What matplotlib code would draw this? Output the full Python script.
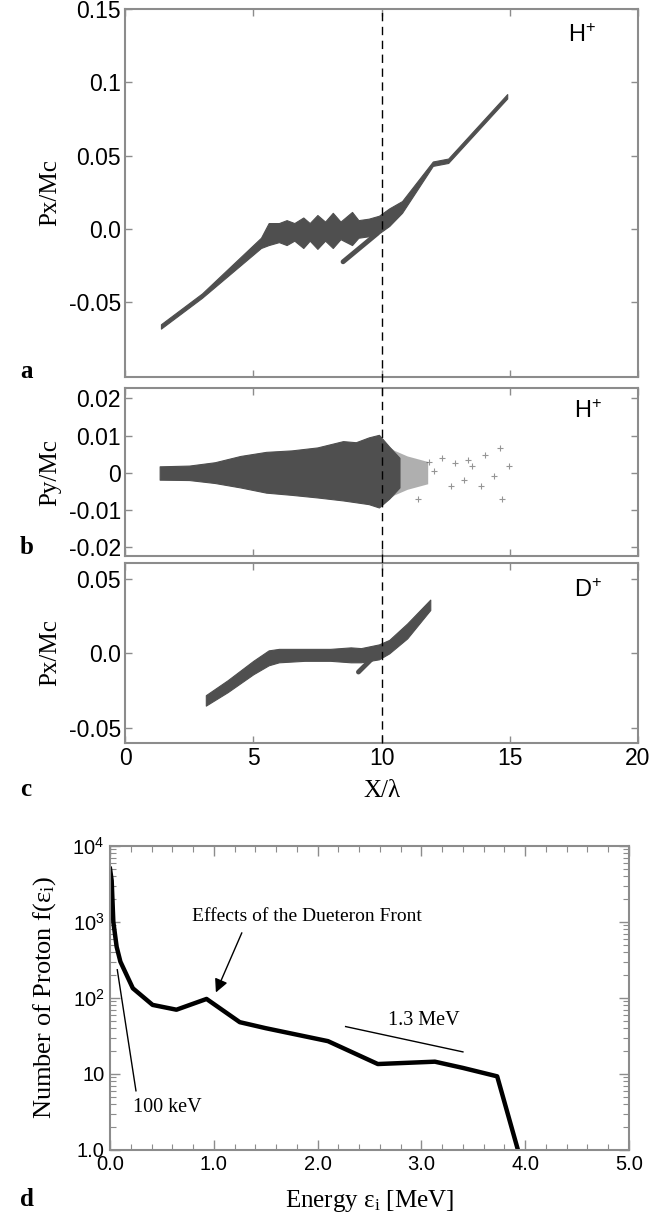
import matplotlib
matplotlib.use("Agg")
import matplotlib.pyplot as plt
from matplotlib.lines import Line2D
from matplotlib.transforms import blended_transform_factory
from matplotlib.ticker import FixedLocator, MultipleLocator, LogLocator, NullFormatter

SANS = 'Liberation Sans'
SERIF = 'Liberation Serif'
CLOUD = '#4f4f4f'
SPINE = '#8c8c8c'

plt.rcParams['font.family'] = SANS
plt.rcParams['mathtext.fontset'] = 'custom'
plt.rcParams['mathtext.rm'] = SERIF
plt.rcParams['mathtext.it'] = SERIF + ':italic'
plt.rcParams['mathtext.sf'] = SANS

# ---- panel a : H+ Px/Mc (cloud envelope)
a_x = [1.4, 3.0, 5.3, 5.6, 6.0, 6.3, 6.6, 6.95, 7.2, 7.5, 7.8, 8.1, 8.4, 8.85,
       9.1, 9.5, 9.9, 10.3, 10.8, 12.0, 12.6, 14.9]
a_lo = [-0.068, -0.047, -0.013, -0.011, -0.009, -0.011, -0.008, -0.013, -0.008,
        -0.0136, -0.008, -0.013, -0.007, -0.011, -0.006, -0.005, -0.003, 0.002,
        0.011, 0.043, 0.045, 0.089]
a_hi = [-0.065, -0.044, -0.006, 0.004, 0.004, 0.006, 0.004, 0.0078, 0.004,
        0.0095, 0.005, 0.011, 0.005, 0.0116, 0.006, 0.007, 0.009, 0.014, 0.019,
        0.046, 0.048, 0.092]
a_hook_x = [8.5, 9.84]
a_hook_y = [-0.0224, -0.003]

# ---- panel b : H+ Py/Mc
b_x = [1.35, 2.5, 3.5, 4.5, 5.5, 6.5, 7.5, 8.5, 9.0, 9.5, 9.9, 10.3, 10.7]
b_hi = [0.0017, 0.0019, 0.0028, 0.0045, 0.0056, 0.0060, 0.0068, 0.0085, 0.0082,
        0.0095, 0.0102, 0.0070, 0.0040]
b_lo = [-0.0019, -0.0020, -0.0028, -0.0040, -0.0054, -0.0060, -0.0067, -0.0075,
        -0.0080, -0.0085, -0.0094, -0.0070, -0.0040]
b_fringe_x = [9.9, 10.5, 11.0, 11.8]
b_fringe_hi = [0.009, 0.006, 0.0045, 0.003]
b_fringe_lo = [-0.009, -0.006, -0.0045, -0.003]
b_sparse_x = [11.86, 12.37, 12.87, 13.53, 14.03, 14.37, 14.62, 14.70, 14.96,
              13.87, 13.20, 12.70, 11.44, 12.03, 13.37]
b_sparse_y = [0.0030, 0.0039, 0.0026, 0.0017, 0.0048, -0.0010, 0.0066, -0.0072,
              0.0017, -0.0037, -0.0019, -0.0037, -0.0072, 0.0004, 0.0035]

# ---- panel c : D+ Px/Mc
c_x = [3.15, 4.0, 5.0, 5.6, 6.0, 7.0, 8.0, 8.8, 9.2, 9.9, 10.3, 11.0, 11.9]
c_lo = [-0.035, -0.026, -0.014, -0.008, -0.006, -0.005, -0.005, -0.006, -0.006,
        -0.004, 0.000, 0.010, 0.029]
c_hi = [-0.028, -0.018, -0.005, 0.002, 0.003, 0.003, 0.003, 0.004, 0.0035,
        0.006, 0.009, 0.020, 0.036]
c_hook_x = [9.1, 9.6]
c_hook_y = [-0.0125, -0.004]

# ---- panel d : proton energy spectrum
energy = [0.0, 0.016, 0.032, 0.064, 0.1, 0.22, 0.41, 0.64, 0.93, 1.25, 1.5,
          2.1, 2.58, 3.13, 3.4, 3.73, 3.93]
counts = [5000, 3500, 1000, 470, 300, 134, 81, 70, 97, 48, 40, 27, 13.5, 14.5,
          12, 9.3, 1.0]
line_13_e = [2.27, 3.40]
line_13_f = [42, 19.5]
line_100_e = [0.07, 0.25]
line_100_f = [235, 6.0]

fig = plt.figure(figsize=(6.7, 12.17), dpi=100)
ax_a = fig.add_axes([0.1866, 0.6902, 0.7657, 0.3024])
ax_b = fig.add_axes([0.1866, 0.5431, 0.7657, 0.1380])
ax_c = fig.add_axes([0.1866, 0.3895, 0.7657, 0.1479])
ax_d = fig.add_axes([0.1642, 0.0551, 0.7746, 0.2498])


def style_top(ax, ylim, yticks, ylabels, show_x):
    ax.set_xlim(0, 20)
    ax.set_ylim(*ylim)
    ax.set_xticks([0, 5, 10, 15, 20])
    ax.set_yticks(yticks)
    ax.set_yticklabels(ylabels)
    ax.tick_params(direction='in', length=5, width=1, color=SPINE, top=True,
                   right=True, labelsize=16.5, pad=3, labelbottom=show_x)
    for s in ax.spines.values():
        s.set_color(SPINE)
        s.set_linewidth(1.5)


# panel a
ax_a.fill_between(a_x, a_lo, a_hi, color=CLOUD, lw=0.8, edgecolor=CLOUD)
ax_a.plot(a_hook_x, a_hook_y, color=CLOUD, lw=3.5, solid_capstyle='round')
style_top(ax_a, (-0.101, 0.15), [-0.05, 0.0, 0.05, 0.1, 0.15],
          ['-0.05', '0.0', '0.05', '0.1', '0.15'], False)
ax_a.set_ylabel('Px/Mc', family=SERIF, fontsize=18, labelpad=5)
ax_a.text(17.8, 0.132, r'$\mathsf{H^{+}}$', fontsize=17, ha='center', va='center')

# panel b
ax_b.fill_between(b_x, b_lo, b_hi, color=CLOUD, lw=0.8, edgecolor=CLOUD)
ax_b.fill_between(b_fringe_x, b_fringe_lo, b_fringe_hi, color=CLOUD, alpha=0.45, lw=0)
ax_b.scatter(b_sparse_x, b_sparse_y, marker='+', s=14, color=CLOUD, alpha=0.6, lw=0.8)
style_top(ax_b, (-0.0225, 0.0228), [-0.02, -0.01, 0.0, 0.01, 0.02],
          ['-0.02', '-0.01', '0', '0.01', '0.02'], False)
ax_b.set_ylabel('Py/Mc', family=SERIF, fontsize=18, labelpad=5)
ax_b.text(18.05, 0.0165, r'$\mathsf{H^{+}}$', fontsize=17, ha='center', va='center')

# panel c
ax_c.fill_between(c_x, c_lo, c_hi, color=CLOUD, lw=0.8, edgecolor=CLOUD)
ax_c.plot(c_hook_x, c_hook_y, color=CLOUD, lw=3.5, solid_capstyle='round')
style_top(ax_c, (-0.06, 0.0605), [-0.05, 0.0, 0.05],
          ['-0.05', '0.0', '0.05'], True)
ax_c.set_ylabel('Px/Mc', family=SERIF, fontsize=18, labelpad=5)
ax_c.set_xlabel('X/λ', family=SERIF, fontsize=18, labelpad=7)
ax_c.text(18.05, 0.042, r'$\mathsf{D^{+}}$', fontsize=17, ha='center', va='center')

# dashed marker at X/lambda = 10, running through all three panels
top_a = ax_a.get_position().y1
bot_c = ax_c.get_position().y0
trans = blended_transform_factory(ax_c.transData, fig.transFigure)
fig.add_artist(Line2D([10, 10], [bot_c, top_a], transform=trans, color='black',
                      lw=1, ls=(0, (6, 4)), zorder=5))

# panel d
ax_d.plot(energy, counts, color='black', lw=3.2, solid_joinstyle='round')
ax_d.plot(line_13_e, line_13_f, color='black', lw=1)
ax_d.plot(line_100_e, line_100_f, color='black', lw=1)
ax_d.set_yscale('log')
ax_d.set_xlim(0, 5)
ax_d.set_ylim(1, 1e4)
ax_d.xaxis.set_major_locator(MultipleLocator(1.0))
ax_d.xaxis.set_minor_locator(MultipleLocator(0.2))
ax_d.set_xticks([0, 1, 2, 3, 4, 5])
ax_d.set_xticklabels(['0.0', '1.0', '2.0', '3.0', '4.0', '5.0'])
ax_d.yaxis.set_major_locator(FixedLocator([1, 10, 100, 1000, 10000]))
ax_d.yaxis.set_minor_locator(LogLocator(base=10, subs=range(2, 10)))
ax_d.yaxis.set_minor_formatter(NullFormatter())
ax_d.set_yticklabels(['1.0', '10', r'$\mathsf{10^{2}}$', r'$\mathsf{10^{3}}$',
                      r'$\mathsf{10^{4}}$'])
ax_d.tick_params(which='both', direction='in', color=SPINE, top=True, right=True,
                 labelsize=14.5, pad=4)
ax_d.tick_params(which='major', length=7, width=1)
ax_d.tick_params(which='minor', length=4, width=0.8)
for s in ax_d.spines.values():
    s.set_color(SPINE)
    s.set_linewidth(1.5)
ax_d.set_xlabel(r'Energy ε$_{\rm i}$ [MeV]', family=SERIF, fontsize=18,
                labelpad=10)
ax_d.set_ylabel(r'Number of Proton f(ε$_{\rm i}$)', family=SERIF,
                fontsize=19, labelpad=10)
ax_d.text(3.02, 50, '1.3 MeV', family=SERIF, fontsize=14.5, ha='center', va='center')
ax_d.text(0.22, 3.6, '100 keV', family=SERIF, fontsize=14.5, ha='left', va='center')
ax_d.text(0.79, 1170, 'Effects of the Dueteron Front', family=SERIF, fontsize=14,
          ha='left', va='center')
ax_d.annotate('', xy=(1.02, 118), xytext=(1.27, 720),
              arrowprops=dict(arrowstyle='-|>', color='black', lw=1,
                              mutation_scale=20, shrinkA=0, shrinkB=0))

# panel letters
for letter, yy in [('a', 372), ('b', 547), ('c', 790), ('d', 1200)]:
    fig.text(20 / 670, 1 - yy / 1217, letter, family=SERIF, fontweight='bold',
             fontsize=18, ha='left', va='center')

fig.savefig('out.png', dpi=100)
